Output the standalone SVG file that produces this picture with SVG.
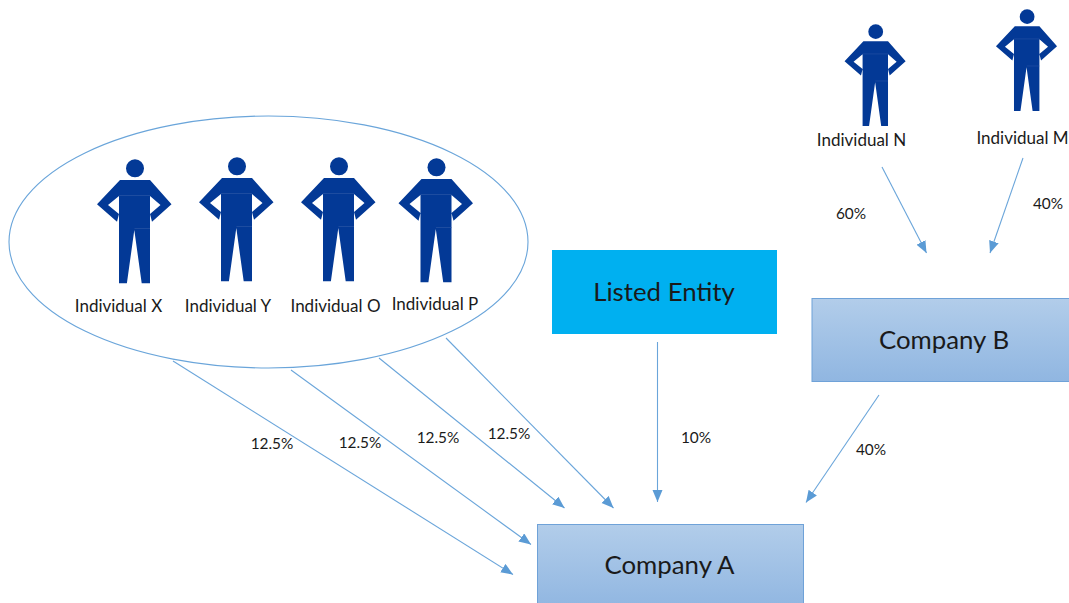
<svg xmlns="http://www.w3.org/2000/svg" width="1069" height="603" viewBox="0 0 1069 603">
<style>
text{font-family:"Lato","Open Sans","Liberation Sans",sans-serif;fill:#1a1a1a;text-anchor:middle}
.s{font-size:17px}
.m{font-size:15.400px}
.b{font-size:25.800px}
.c{stroke:#6aa5da;stroke-width:1.1;fill:none;marker-end:url(#a)}
.box{stroke:#6fa2d8;stroke-width:1;fill:url(#g)}
</style>
<defs>
<marker id="a" markerUnits="userSpaceOnUse" markerWidth="14" markerHeight="12" refX="12" refY="5" orient="auto"><path d="M0,0L12,5L0,10Z" fill="#5b9bd5"/></marker>
<linearGradient id="g" x1="0" y1="0" x2="0" y2="1"><stop offset="0" stop-color="#b2cdea"/><stop offset="1" stop-color="#90b6e1"/></linearGradient>
<g id="p">
<circle cx="0.5" cy="9.3" r="9" fill="#033996"/>
<path fill="#033996" d="M-14.500,21L15.500,21L37,45.300L17.500,62.700L15.500,55L26,46L15.500,37L15.500,124.300L7.200,124.300L-0.200,71L-7.600,124.300L-15.500,124.300L-15.500,37L-26.500,46L-15.500,55L-17.500,62.700L-37.500,45.300Z"/>
<path d="M-15.500,36.500H15.500M0,69.500H15.500" stroke="#2f59a8" stroke-width="0.6" fill="none"/>
</g>
</defs>
<rect width="1069" height="603" fill="#fff"/>
<g id="group-ellipse"><ellipse cx="268.500" cy="242" rx="259.500" ry="126" fill="#fff" stroke="#6aa5da" stroke-width="1.1"/></g>
<g id="connectors">
<path class="c" d="M173,361L513,574.500"/>
<path class="c" d="M291,370L531,544.500"/>
<path class="c" d="M379,358L564.500,508"/>
<path class="c" d="M446,338L613.500,508"/>
<path class="c" d="M657.500,342V502"/>
<path class="c" d="M879,395L806,502.500"/>
<path class="c" d="M882,167L926.500,253"/>
<path class="c" d="M1023,158L990,253"/>
</g>
<g id="individual-x"><use href="#p" x="134.500" y="159"/><text class="s" x="118.500" y="312">Individual X</text></g>
<g id="individual-y"><use href="#p" x="236.500" y="157"/><text class="s" x="228" y="312">Individual Y</text></g>
<g id="individual-o"><use href="#p" x="338.500" y="157"/><text class="s" x="335.500" y="312">Individual O</text></g>
<g id="individual-p"><use href="#p" x="436" y="158"/><text class="s" x="435" y="310">Individual P</text></g>
<g id="individual-n"><use href="#p" transform="translate(875.300 24) scale(0.82)"/><text class="s" x="861.500" y="146">Individual N</text></g>
<g id="individual-m"><use href="#p" transform="translate(1026.700 9) scale(0.82)"/><text class="s" x="1022.500" y="144">Individual M</text></g>
<g id="listed-entity"><rect x="552" y="250" width="225" height="84" fill="#00b0f0"/><text class="b" x="664" y="301">Listed Entity</text></g>
<g id="company-b"><rect class="box" x="812" y="298.500" width="262" height="83"/><text class="b" x="944" y="349">Company B</text></g>
<g id="company-a"><rect class="box" x="537.500" y="524.500" width="266" height="84"/><text class="b" x="669.500" y="574">Company A</text></g>
<g id="labels">
<text class="m" x="272" y="449">12.5%</text>
<text class="m" x="360" y="448">12.5%</text>
<text class="m" x="438" y="443">12.5%</text>
<text class="m" x="509" y="439">12.5%</text>
<text class="m" x="696" y="443">10%</text>
<text class="m" x="871" y="455">40%</text>
<text class="m" x="851" y="219">60%</text>
<text class="m" x="1048" y="209">40%</text>
</g>
</svg>
